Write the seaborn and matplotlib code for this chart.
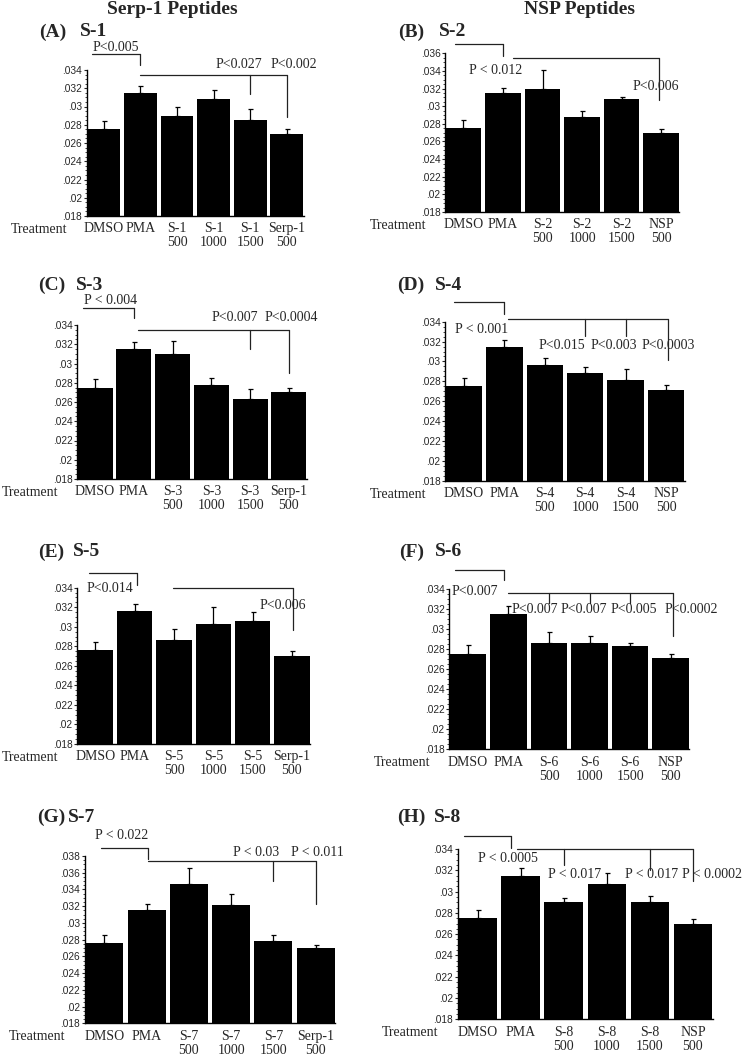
import matplotlib
matplotlib.use("Agg")
import matplotlib.pyplot as plt
import seaborn as sns
import pandas as pd
from matplotlib.ticker import MultipleLocator, FuncFormatter

sns.set_style("ticks")
plt.rcParams["font.family"] = ["Liberation Serif", "DejaVu Serif"]

W, H = 745, 1055

# ---- data: bar means and upper error (SEM) per panel ----
labels_A = ["DMSO", "PMA", "S-1\n500", "S-1\n1000", "S-1\n1500", "Serp-1\n500"]
means_A = [0.0275, 0.0315, 0.0290, 0.0308, 0.0285, 0.0270]
sem_A = [0.0009, 0.0007, 0.0009, 0.0010, 0.0012, 0.0005]

labels_B = ["DMSO", "PMA", "S-2\n500", "S-2\n1000", "S-2\n1500", "NSP\n500"]
means_B = [0.0275, 0.0315, 0.0320, 0.0288, 0.0308, 0.0270]
sem_B = [0.0009, 0.0006, 0.0021, 0.0007, 0.0002, 0.0004]

labels_C = ["DMSO", "PMA", "S-3\n500", "S-3\n1000", "S-3\n1500", "Serp-1\n500"]
means_C = [0.0275, 0.0315, 0.0310, 0.0278, 0.0263, 0.0270]
sem_C = [0.0009, 0.0007, 0.0013, 0.0007, 0.0010, 0.0005]

labels_D = ["DMSO", "PMA", "S-4\n500", "S-4\n1000", "S-4\n1500", "NSP\n500"]
means_D = [0.0275, 0.0315, 0.0296, 0.0288, 0.0281, 0.0271]
sem_D = [0.0008, 0.0007, 0.0007, 0.0006, 0.0011, 0.0005]

labels_E = ["DMSO", "PMA", "S-5\n500", "S-5\n1000", "S-5\n1500", "Serp-1\n500"]
means_E = [0.0276, 0.0316, 0.0286, 0.0303, 0.0306, 0.0270]
sem_E = [0.0008, 0.0007, 0.0012, 0.0017, 0.0009, 0.0005]

labels_F = ["DMSO", "PMA", "S-6\n500", "S-6\n1000", "S-6\n1500", "NSP\n500"]
means_F = [0.0275, 0.0315, 0.0286, 0.0286, 0.0283, 0.0271]
sem_F = [0.0009, 0.0008, 0.0011, 0.0007, 0.0003, 0.0004]

labels_G = ["DMSO", "PMA", "S-7\n500", "S-7\n1000", "S-7\n1500", "Serp-1\n500"]
means_G = [0.0276, 0.0315, 0.0346, 0.0321, 0.0278, 0.0270]
sem_G = [0.0009, 0.0008, 0.0020, 0.0014, 0.0008, 0.0004]

labels_H = ["DMSO", "PMA", "S-8\n500", "S-8\n1000", "S-8\n1500", "NSP\n500"]
means_H = [0.0275, 0.0315, 0.0290, 0.0307, 0.0290, 0.0270]
sem_H = [0.0008, 0.0007, 0.0004, 0.0010, 0.0006, 0.0004]

# ---- layout: axes box in pixels (left, top, right, bottom), brackets, p labels ----
panels = [
    dict(tag="(A)", name="S-1", labels=labels_A, means=means_A, sem=sem_A, ymax=0.034,
         box=(87, 70, 303.5, 216), tagpos=(39, 80, 32),
         brackets=[(-0.33, 1.0, 0.0357, [(1.0, 0.0345)]),
                   (1.0, 5.0, 0.0335, [(4.0, 0.0314), (5.0, 0.0289)])],
         pvals=[(0.33, 0.0365, "P<0.005"), (3.7, 0.0346, "P<0.027"), (5.2, 0.0346, "P<0.002")]),
    dict(tag="(B)", name="S-2", labels=labels_B, means=means_B, sem=sem_B, ymax=0.036,
         box=(445.3, 53.3, 679.3, 212), tagpos=(398, 439, 32),
         brackets=[(-0.22, 1.0, 0.0370, [(1.0, 0.0357)]),
                   (1.25, 4.95, 0.0355, [(4.95, 0.0307)])],
         pvals=[(0.82, 0.0341, "P < 0.012"), (4.86, 0.0322, "P<0.006")]),
    dict(tag="(C)", name="S-3", labels=labels_C, means=means_C, sem=sem_C, ymax=0.034,
         box=(77.3, 325, 306.7, 479), tagpos=(38, 76, 285),
         brackets=[(-0.32, 1.0, 0.0358, [(1.0, 0.0347)]),
                   (1.1, 5.0, 0.0335, [(4.0, 0.0315), (5.0, 0.0290)])],
         pvals=[(0.39, 0.0365, "P < 0.004"), (3.6, 0.0348, "P<0.007"), (5.05, 0.0348, "P<0.0004")]),
    dict(tag="(D)", name="S-4", labels=labels_D, means=means_D, sem=sem_D, ymax=0.034,
         box=(445.3, 321.7, 684.7, 480.7), tagpos=(397, 435, 285),
         brackets=[(-0.25, 1.0, 0.0360, [(1.0, 0.0348)]),
                   (1.1, 5.05, 0.0343, [(3.0, 0.0326), (4.0, 0.0326), (5.05, 0.0301)])],
         pvals=[(0.43, 0.0332, "P < 0.001"), (2.43, 0.0316, "P<0.015"),
                (3.7, 0.0316, "P<0.003"), (5.06, 0.0316, "P<0.0003")]),
    dict(tag="(E)", name="S-5", labels=labels_E, means=means_E, sem=sem_E, ymax=0.034,
         box=(77.3, 587.7, 310, 744), tagpos=(38, 73, 552),
         brackets=[(-0.16, 1.07, 0.0355, [(1.07, 0.0343)]),
                   (1.97, 5.03, 0.0340, [(5.03, 0.0297)])],
         pvals=[(0.36, 0.0339, "P<0.014"), (4.77, 0.0322, "P<0.006")]),
    dict(tag="(F)", name="S-6", labels=labels_F, means=means_F, sem=sem_F, ymax=0.034,
         box=(449.3, 589.3, 689.3, 749.3), tagpos=(399, 435, 552),
         brackets=[(-0.33, 0.88, 0.0359, [(0.88, 0.0349)]),
                   (1.0, 5.07, 0.0336, [(2.0, 0.0326), (3.0, 0.0326), (4.0, 0.0326), (5.07, 0.0293)])],
         pvals=[(0.17, 0.0338, "P<0.007"), (1.65, 0.0320, "P<0.007"), (2.85, 0.0320, "P<0.007"),
                (4.1, 0.0320, "P<0.005"), (5.5, 0.0320, "P<0.0002")]),
    dict(tag="(G)", name="S-7", labels=labels_G, means=means_G, sem=sem_G, ymax=0.038,
         box=(85, 856, 335, 1023.3), tagpos=(37, 68, 817),
         brackets=[(-0.09, 1.04, 0.0389, [(1.04, 0.0376)]),
                   (1.04, 5.02, 0.0374, [(4.0, 0.0350), (5.02, 0.0323)])],
         pvals=[(0.4, 0.0404, "P < 0.022"), (3.6, 0.0384, "P < 0.03"), (5.05, 0.0384, "P < 0.011")]),
    dict(tag="(H)", name="S-8", labels=labels_H, means=means_H, sem=sem_H, ymax=0.034,
         box=(458, 849, 712.7, 1019.3), tagpos=(397, 434, 817),
         brackets=[(-0.33, 0.78, 0.0352, [(0.78, 0.0341)]),
                   (0.92, 5.0, 0.0340, [(2.0, 0.0325), (4.0, 0.0320), (5.0, 0.0310)])],
         pvals=[(0.7, 0.0331, "P < 0.0005"), (2.25, 0.0316, "P < 0.017"),
                (4.05, 0.0316, "P < 0.017"), (5.45, 0.0316, "P < 0.0002")]),
]

fig = plt.figure(figsize=(W / 100, H / 100), dpi=100)

fmt = FuncFormatter(lambda v, pos: f"{v:.3f}".lstrip("0").rstrip("0"))

for p in panels:
    l, t, r, b = p["box"]
    ax = fig.add_axes([l / W, 1 - b / H, (r - l) / W, (b - t) / H])
    df = pd.DataFrame({"Treatment": p["labels"], "value": p["means"]})
    sns.barplot(data=df, x="Treatment", y="value", order=p["labels"], color="black",
                saturation=1, width=0.9, edgecolor="none", errorbar=None, ax=ax)
    ax.errorbar(range(len(p["means"])), p["means"], yerr=[[0] * len(p["sem"]), p["sem"]],
                fmt="none", ecolor="black", elinewidth=0.9, capsize=1.8, capthick=0.9)
    ax.set_xlim(-0.46, 5.46)
    ax.set_ylim(0.018, p["ymax"])
    ax.yaxis.set_major_locator(MultipleLocator(0.002))
    ax.yaxis.set_minor_locator(MultipleLocator(0.0005))
    ax.yaxis.set_major_formatter(fmt)
    ax.tick_params(axis="y", which="major", length=2.5, width=0.8, pad=1, labelsize=7.3)
    ax.tick_params(axis="y", which="minor", length=1.2, width=0.6)
    ax.tick_params(axis="x", length=0, pad=4.5, labelsize=10)
    for lab in ax.get_yticklabels():
        lab.set_fontfamily("Liberation Sans")
    for lab in ax.get_xticklabels():
        lab.set_linespacing(1.1)
    ax.set_xlabel("")
    ax.set_ylabel("")
    sns.despine(ax=ax)
    for s in ("left", "bottom"):
        ax.spines[s].set_linewidth(1.0)
        ax.spines[s].set_color("black")

    ax.annotate("Treatment", xy=(0, 0), xycoords="axes fraction", xytext=(-14, -5),
                textcoords="offset points", ha="right", va="top", fontsize=10)

    for x0, x1, y, drops in p["brackets"]:
        ax.plot([x0, x1], [y, y], color="#222222", lw=0.9, clip_on=False)
        for xd, yd in drops:
            ax.plot([xd, xd], [y, yd], color="#222222", lw=0.9, clip_on=False)
    for x, y, s in p["pvals"]:
        ax.text(x, y, s, ha="center", va="center", fontsize=10, clip_on=False)

    xt, xn, yt = p["tagpos"]
    fig.text(xt / W, 1 - yt / H, p["tag"], ha="left", va="center", fontsize=14, fontweight="bold")
    fig.text(xn / W, 1 - yt / H, p["name"], ha="left", va="center", fontsize=14, fontweight="bold")

fig.text(172 / W, 1 - 9 / H, "Serp-1 Peptides", ha="center", va="center", fontsize=14, fontweight="bold")
fig.text(580 / W, 1 - 9 / H, "NSP Peptides", ha="center", va="center", fontsize=14, fontweight="bold")

fig.savefig("out.png", dpi=100, facecolor="white")
